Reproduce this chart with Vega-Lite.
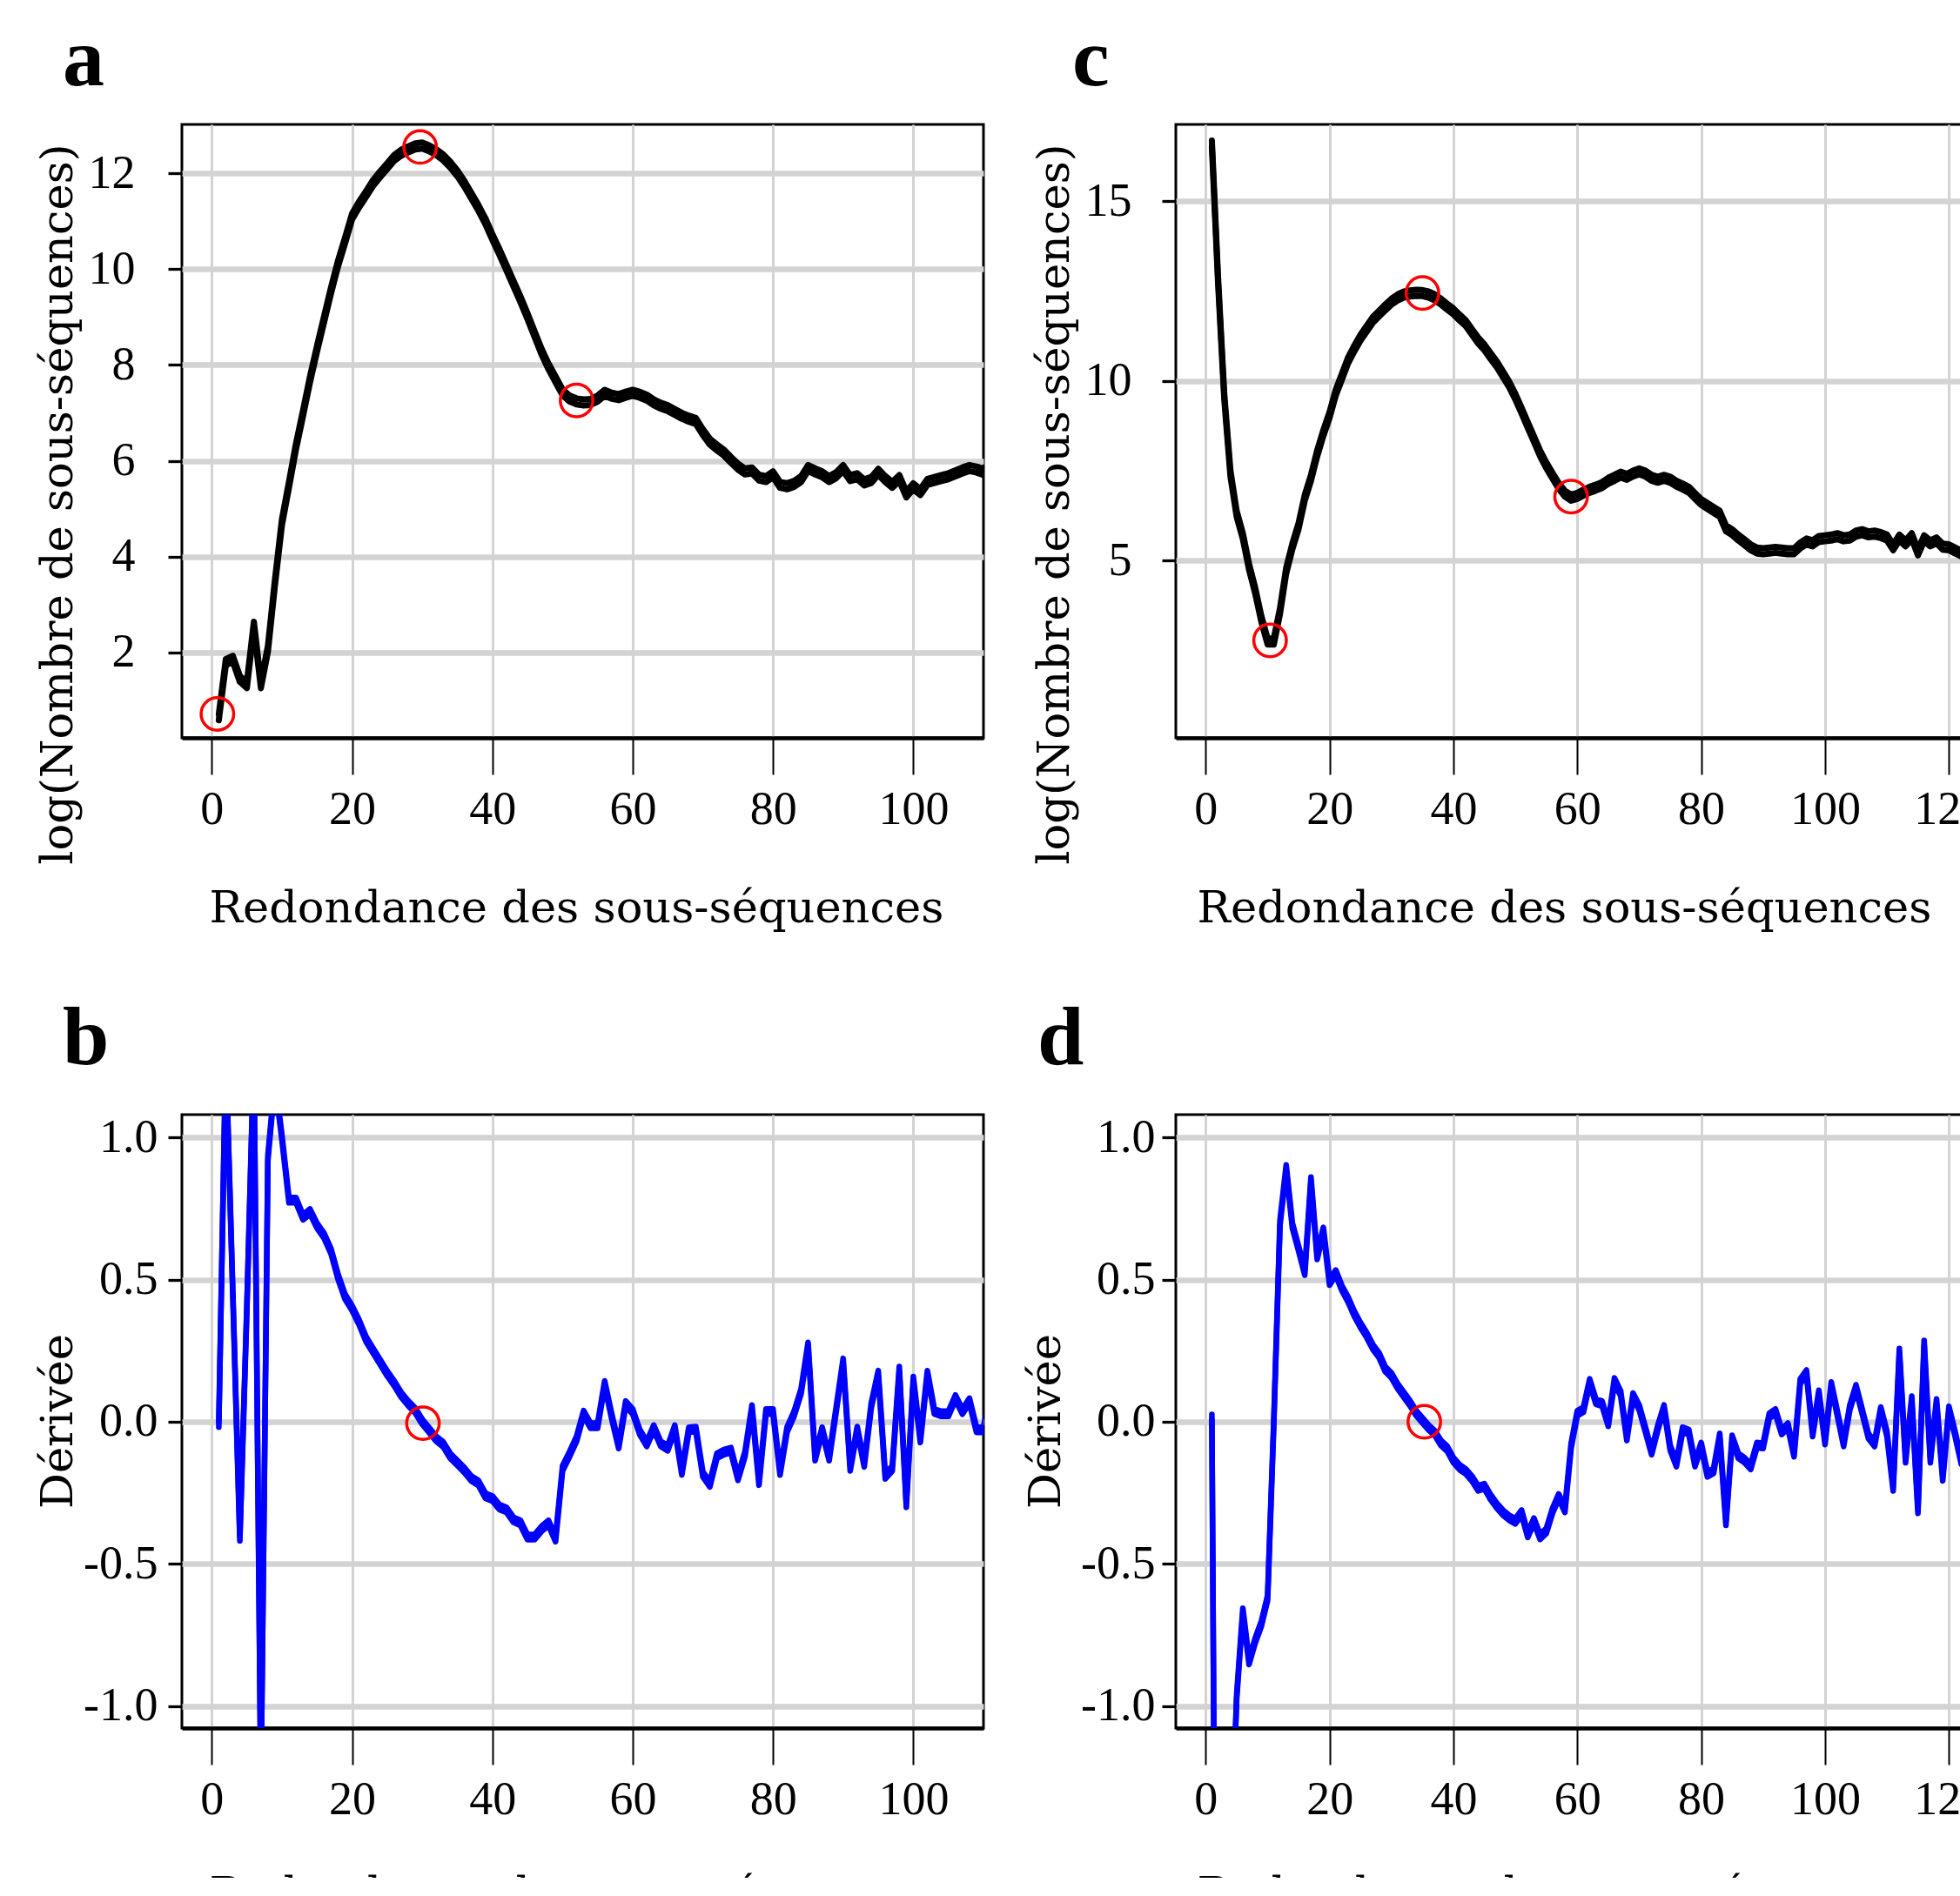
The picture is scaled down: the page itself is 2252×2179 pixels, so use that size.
{
  "$schema": "https://vega.github.io/schema/vega-lite/v6.json",
  "background": "white",
  "padding": {"left": 39, "top": 19, "right": -21, "bottom": -46},
  "columns": 2,
  "bounds": "flush",
  "spacing": {"row": 433, "column": 221},
  "datasets": {
    "a": [
      {"x":1,"y":0.65},{"x":2,"y":1.8},{"x":3,"y":1.87},{"x":4,"y":1.45},{"x":5,"y":1.32},{"x":6,"y":2.58},{"x":7,"y":1.32},{"x":8,"y":2.08},{"x":9,"y":3.46},{"x":10,"y":4.72},
      {"x":11,"y":5.5},{"x":12,"y":6.3},{"x":13,"y":6.99},{"x":14,"y":7.7},{"x":15,"y":8.34},{"x":16,"y":8.95},{"x":17,"y":9.56},{"x":18,"y":10.12},{"x":19,"y":10.6},{"x":20,"y":11.1},
      {"x":21,"y":11.35},{"x":22,"y":11.57},{"x":23,"y":11.8},{"x":24,"y":11.98},{"x":25,"y":12.15},{"x":26,"y":12.32},{"x":27,"y":12.43},{"x":28,"y":12.5},{"x":29,"y":12.56},{"x":30,"y":12.58},
      {"x":31,"y":12.52},{"x":32,"y":12.44},{"x":33,"y":12.33},{"x":34,"y":12.18},{"x":35,"y":12.0},{"x":36,"y":11.78},{"x":37,"y":11.53},{"x":38,"y":11.28},{"x":39,"y":11.0},{"x":40,"y":10.67},
      {"x":41,"y":10.36},{"x":42,"y":10.03},{"x":43,"y":9.7},{"x":44,"y":9.37},{"x":45,"y":9.02},{"x":46,"y":8.65},{"x":47,"y":8.28},{"x":48,"y":7.97},{"x":49,"y":7.7},{"x":50,"y":7.43},
      {"x":51,"y":7.3},{"x":52,"y":7.24},{"x":53,"y":7.22},{"x":54,"y":7.23},{"x":55,"y":7.3},{"x":56,"y":7.42},{"x":57,"y":7.36},{"x":58,"y":7.33},{"x":59,"y":7.38},{"x":60,"y":7.42},
      {"x":61,"y":7.38},{"x":62,"y":7.32},{"x":63,"y":7.22},{"x":64,"y":7.15},{"x":65,"y":7.1},{"x":66,"y":7.02},{"x":67,"y":6.94},{"x":68,"y":6.88},{"x":69,"y":6.83},{"x":70,"y":6.6},
      {"x":71,"y":6.4},{"x":72,"y":6.28},{"x":73,"y":6.17},{"x":74,"y":6.02},{"x":75,"y":5.88},{"x":76,"y":5.78},{"x":77,"y":5.8},{"x":78,"y":5.65},{"x":79,"y":5.62},{"x":80,"y":5.72},
      {"x":81,"y":5.5},{"x":82,"y":5.47},{"x":83,"y":5.52},{"x":84,"y":5.62},{"x":85,"y":5.85},{"x":86,"y":5.78},{"x":87,"y":5.72},{"x":88,"y":5.62},{"x":89,"y":5.7},{"x":90,"y":5.85},
      {"x":91,"y":5.64},{"x":92,"y":5.68},{"x":93,"y":5.55},{"x":94,"y":5.6},{"x":95,"y":5.77},{"x":96,"y":5.62},{"x":97,"y":5.5},{"x":98,"y":5.64},{"x":99,"y":5.3},{"x":100,"y":5.47},
      {"x":101,"y":5.35},{"x":102,"y":5.56},{"x":103,"y":5.6},{"x":104,"y":5.64},{"x":105,"y":5.68},{"x":106,"y":5.74},{"x":107,"y":5.8},{"x":108,"y":5.85},{"x":109,"y":5.82},{"x":110,"y":5.77},{"x":111,"y":5.77}
    ],
    "ap": [{"x":0.8,"y":0.72},{"x":29.7,"y":12.55},{"x":52.0,"y":7.26}],
    "b": [
      {"x":1,"y":-0.01},{"x":2,"y":1.3},{"x":3,"y":0.45},{"x":4,"y":-0.41},{"x":5,"y":0.4},{"x":6,"y":1.3},{"x":7,"y":-1.3},{"x":8,"y":0.93},{"x":9,"y":1.2},{"x":10,"y":1.0},
      {"x":11,"y":0.78},{"x":12,"y":0.78},{"x":13,"y":0.72},{"x":14,"y":0.74},{"x":15,"y":0.69},{"x":16,"y":0.655},{"x":17,"y":0.6},{"x":18,"y":0.51},{"x":19,"y":0.44},{"x":20,"y":0.4},
      {"x":21,"y":0.35},{"x":22,"y":0.29},{"x":23,"y":0.25},{"x":24,"y":0.21},{"x":25,"y":0.17},{"x":26,"y":0.135},{"x":27,"y":0.095},{"x":28,"y":0.065},{"x":29,"y":0.04},{"x":30,"y":0.0},
      {"x":31,"y":-0.03},{"x":32,"y":-0.06},{"x":33,"y":-0.08},{"x":34,"y":-0.12},{"x":35,"y":-0.145},{"x":36,"y":-0.17},{"x":37,"y":-0.2},{"x":38,"y":-0.215},{"x":39,"y":-0.26},{"x":40,"y":-0.27},
      {"x":41,"y":-0.3},{"x":42,"y":-0.31},{"x":43,"y":-0.345},{"x":44,"y":-0.356},{"x":45,"y":-0.406},{"x":46,"y":-0.406},{"x":47,"y":-0.377},{"x":48,"y":-0.356},{"x":49,"y":-0.413},{"x":50,"y":-0.164},
      {"x":51,"y":-0.114},{"x":52,"y":-0.06},{"x":53,"y":0.03},{"x":54,"y":-0.014},{"x":55,"y":-0.014},{"x":56,"y":0.135},{"x":57,"y":0.02},{"x":58,"y":-0.085},{"x":59,"y":0.064},{"x":60,"y":0.036},
      {"x":61,"y":-0.036},{"x":62,"y":-0.078},{"x":63,"y":-0.021},{"x":64,"y":-0.078},{"x":65,"y":-0.093},{"x":66,"y":-0.021},{"x":67,"y":-0.178},{"x":68,"y":-0.028},{"x":69,"y":-0.026},{"x":70,"y":-0.185},
      {"x":71,"y":-0.22},{"x":72,"y":-0.12},{"x":73,"y":-0.107},{"x":74,"y":-0.1},{"x":75,"y":-0.197},{"x":76,"y":-0.114},{"x":77,"y":0.05},{"x":78,"y":-0.214},{"x":79,"y":0.036},{"x":80,"y":0.036},
      {"x":81,"y":-0.178},{"x":82,"y":-0.028},{"x":83,"y":0.028},{"x":84,"y":0.107},{"x":85,"y":0.27},{"x":86,"y":-0.128},{"x":87,"y":-0.028},{"x":88,"y":-0.128},{"x":89,"y":0.043},{"x":90,"y":0.214},
      {"x":91,"y":-0.164},{"x":92,"y":-0.026},{"x":93,"y":-0.15},{"x":94,"y":0.057},{"x":95,"y":0.171},{"x":96,"y":-0.192},{"x":97,"y":-0.164},{"x":98,"y":0.185},{"x":99,"y":-0.292},{"x":100,"y":0.15},
      {"x":101,"y":-0.064},{"x":102,"y":0.171},{"x":103,"y":0.036},{"x":104,"y":0.028},{"x":105,"y":0.028},{"x":106,"y":0.085},{"x":107,"y":0.036},{"x":108,"y":0.074},{"x":109,"y":-0.028},{"x":110,"y":-0.028},{"x":111,"y":0.1}
    ],
    "bp": [{"x":30.1,"y":-0.005}],
    "c": [
      {"x":1,"y":16.6},{"x":2,"y":12.8},{"x":3,"y":9.56},{"x":4,"y":7.42},{"x":5,"y":6.3},{"x":6,"y":5.68},{"x":7,"y":4.83},{"x":8,"y":4.16},{"x":9,"y":3.37},{"x":10,"y":2.75},
      {"x":11,"y":2.75},{"x":12,"y":3.6},{"x":13,"y":4.72},{"x":14,"y":5.4},{"x":15,"y":5.96},{"x":16,"y":6.75},{"x":17,"y":7.3},{"x":18,"y":7.98},{"x":19,"y":8.55},{"x":20,"y":9.05},
      {"x":21,"y":9.67},{"x":22,"y":10.12},{"x":23,"y":10.57},{"x":24,"y":10.9},{"x":25,"y":11.2},{"x":26,"y":11.45},{"x":27,"y":11.7},{"x":28,"y":11.87},{"x":29,"y":12.04},{"x":30,"y":12.2},
      {"x":31,"y":12.32},{"x":32,"y":12.4},{"x":33,"y":12.43},{"x":34,"y":12.45},{"x":35,"y":12.44},{"x":36,"y":12.4},{"x":37,"y":12.32},{"x":38,"y":12.2},{"x":39,"y":12.06},{"x":40,"y":11.93},
      {"x":41,"y":11.76},{"x":42,"y":11.6},{"x":43,"y":11.36},{"x":44,"y":11.12},{"x":45,"y":10.93},{"x":46,"y":10.69},{"x":47,"y":10.46},{"x":48,"y":10.18},{"x":49,"y":9.9},{"x":50,"y":9.56},
      {"x":51,"y":9.17},{"x":52,"y":8.77},{"x":53,"y":8.38},{"x":54,"y":7.98},{"x":55,"y":7.65},{"x":56,"y":7.36},{"x":57,"y":7.08},{"x":58,"y":6.86},{"x":59,"y":6.75},{"x":60,"y":6.8},
      {"x":61,"y":6.89},{"x":62,"y":6.97},{"x":63,"y":7.03},{"x":64,"y":7.1},{"x":65,"y":7.22},{"x":66,"y":7.3},{"x":67,"y":7.39},{"x":68,"y":7.33},{"x":69,"y":7.42},{"x":70,"y":7.48},
      {"x":71,"y":7.42},{"x":72,"y":7.3},{"x":73,"y":7.25},{"x":74,"y":7.3},{"x":75,"y":7.25},{"x":76,"y":7.14},{"x":77,"y":7.06},{"x":78,"y":6.97},{"x":79,"y":6.8},{"x":80,"y":6.63},
      {"x":81,"y":6.52},{"x":82,"y":6.41},{"x":83,"y":6.3},{"x":84,"y":5.9},{"x":85,"y":5.79},{"x":86,"y":5.64},{"x":87,"y":5.51},{"x":88,"y":5.37},{"x":89,"y":5.28},{"x":90,"y":5.26},
      {"x":91,"y":5.28},{"x":92,"y":5.3},{"x":93,"y":5.28},{"x":94,"y":5.26},{"x":95,"y":5.26},{"x":96,"y":5.42},{"x":97,"y":5.53},{"x":98,"y":5.48},{"x":99,"y":5.6},{"x":100,"y":5.62},
      {"x":101,"y":5.64},{"x":102,"y":5.68},{"x":103,"y":5.62},{"x":104,"y":5.64},{"x":105,"y":5.75},{"x":106,"y":5.79},{"x":107,"y":5.73},{"x":108,"y":5.75},{"x":109,"y":5.71},{"x":110,"y":5.64},
      {"x":111,"y":5.37},{"x":112,"y":5.64},{"x":113,"y":5.48},{"x":114,"y":5.68},{"x":115,"y":5.23},{"x":116,"y":5.62},{"x":117,"y":5.48},{"x":118,"y":5.56},{"x":119,"y":5.39},{"x":120,"y":5.37},
      {"x":121,"y":5.28},{"x":122,"y":5.2},{"x":123,"y":5.15},{"x":124,"y":5.1},{"x":125,"y":5.1}
    ],
    "cp": [{"x":10.4,"y":2.78},{"x":35.0,"y":12.44},{"x":59.0,"y":6.78}],
    "d": [
      {"x":1,"y":0.017},{"x":2,"y":-3.5},{"x":3,"y":-3.0},{"x":4,"y":-1.6},{"x":5,"y":-0.97},{"x":6,"y":-0.665},{"x":7,"y":-0.845},{"x":8,"y":-0.77},{"x":9,"y":-0.71},{"x":10,"y":-0.62},
      {"x":11,"y":0.0},{"x":12,"y":0.7},{"x":13,"y":0.895},{"x":14,"y":0.69},{"x":15,"y":0.61},{"x":16,"y":0.525},{"x":17,"y":0.852},{"x":18,"y":0.58},{"x":19,"y":0.675},{"x":20,"y":0.49},
      {"x":21,"y":0.525},{"x":22,"y":0.47},{"x":23,"y":0.43},{"x":24,"y":0.38},{"x":25,"y":0.34},{"x":26,"y":0.305},{"x":27,"y":0.263},{"x":28,"y":0.234},{"x":29,"y":0.185},{"x":30,"y":0.163},
      {"x":31,"y":0.125},{"x":32,"y":0.095},{"x":33,"y":0.065},{"x":34,"y":0.03},{"x":35,"y":0.005},{"x":36,"y":-0.02},{"x":37,"y":-0.04},{"x":38,"y":-0.075},{"x":39,"y":-0.095},{"x":40,"y":-0.135},
      {"x":41,"y":-0.16},{"x":42,"y":-0.175},{"x":43,"y":-0.2},{"x":44,"y":-0.234},{"x":45,"y":-0.227},{"x":46,"y":-0.265},{"x":47,"y":-0.295},{"x":48,"y":-0.32},{"x":49,"y":-0.338},{"x":50,"y":-0.35},
      {"x":51,"y":-0.32},{"x":52,"y":-0.398},{"x":53,"y":-0.348},{"x":54,"y":-0.405},{"x":55,"y":-0.384},{"x":56,"y":-0.313},{"x":57,"y":-0.263},{"x":58,"y":-0.31},{"x":59,"y":-0.085},{"x":60,"y":0.03},
      {"x":61,"y":0.043},{"x":62,"y":0.142},{"x":63,"y":0.071},{"x":64,"y":0.064},{"x":65,"y":-0.007},{"x":66,"y":0.145},{"x":67,"y":0.1},{"x":68,"y":-0.057},{"x":69,"y":0.092},{"x":70,"y":0.05},
      {"x":71,"y":-0.028},{"x":72,"y":-0.107},{"x":73,"y":-0.021},{"x":74,"y":0.05},{"x":75,"y":-0.092},{"x":76,"y":-0.149},{"x":77,"y":-0.028},{"x":78,"y":-0.036},{"x":79,"y":-0.149},{"x":80,"y":-0.082},
      {"x":81,"y":-0.185},{"x":82,"y":-0.173},{"x":83,"y":-0.05},{"x":84,"y":-0.355},{"x":85,"y":-0.057},{"x":86,"y":-0.12},{"x":87,"y":-0.135},{"x":88,"y":-0.159},{"x":89,"y":-0.082},{"x":90,"y":-0.085},
      {"x":91,"y":0.021},{"x":92,"y":0.036},{"x":93,"y":-0.036},{"x":94,"y":-0.014},{"x":95,"y":-0.114},{"x":96,"y":0.142},{"x":97,"y":0.173},{"x":98,"y":-0.043},{"x":99,"y":0.102},{"x":100,"y":-0.071},
      {"x":101,"y":0.131},{"x":102,"y":0.028},{"x":103,"y":-0.078},{"x":104,"y":0.05},{"x":105,"y":0.121},{"x":106,"y":0.036},{"x":107,"y":-0.05},{"x":108,"y":-0.078},{"x":109,"y":0.043},{"x":110,"y":-0.043},
      {"x":111,"y":-0.234},{"x":112,"y":0.249},{"x":113,"y":-0.135},{"x":114,"y":0.081},{"x":115,"y":-0.313},{"x":116,"y":0.277},{"x":117,"y":-0.135},{"x":118,"y":0.071},{"x":119,"y":-0.199},{"x":120,"y":0.045},
      {"x":121,"y":-0.043},{"x":122,"y":-0.14},{"x":123,"y":0.05},{"x":124,"y":-0.1},{"x":125,"y":0.0}
    ],
    "dp": [{"x":35.3,"y":0.0}]
  },
  "concat": [
    {
      "width": 921, "height": 705,
      "title": {"text": "a", "anchor": "start", "frame": "group", "orient": "top", "font": "Liberation Serif", "fontSize": 96, "fontWeight": "bold", "color": "black", "baseline": "alphabetic", "offset": 41, "dx": -137, "dy": 92},
      "encoding": {
        "x": {"field": "x", "type": "quantitative", "scale": {"domain": [-4.26, 110.0], "nice": false, "zero": false},
              "axis": {"values": [0, 20, 40, 60, 80, 100], "title": "Redondance des sous-séquences", "titleX": 453}},
        "y": {"field": "y", "type": "quantitative", "scale": {"domain": [0.22, 13.02], "nice": false, "zero": false},
              "axis": {"values": [2, 4, 6, 8, 10, 12], "title": "log(Nombre de sous-séquences)", "labelPadding": 38, "titleY": 436, "titleX": -127}}
      },
      "layer": [
        {"data": {"name": "a"}, "mark": {"type": "line", "color": "black", "strokeWidth": 7, "yOffset": -3.5, "clip": true, "strokeJoin": "round", "strokeCap": "round"}, "encoding": {}},
        {"data": {"name": "a"}, "mark": {"type": "line", "color": "black", "strokeWidth": 7, "yOffset": 3.5, "clip": true, "strokeJoin": "round", "strokeCap": "round"}, "encoding": {}},
        {"data": {"name": "ap"}, "mark": {"type": "point", "shape": "circle", "filled": false, "color": "red", "strokeWidth": 3.5, "size": 1400, "opacity": 1}, "encoding": {}}
      ]
    },
    {
      "width": 921, "height": 705,
      "title": {"text": "c", "anchor": "start", "frame": "group", "orient": "top", "font": "Liberation Serif", "fontSize": 96, "fontWeight": "bold", "color": "black", "baseline": "alphabetic", "offset": 41, "dx": -119, "dy": 92},
      "encoding": {
        "x": {"field": "x", "type": "quantitative", "scale": {"domain": [-4.82, 124.6], "nice": false, "zero": false},
              "axis": {"values": [0, 20, 40, 60, 80, 100, 120], "title": "Redondance des sous-séquences", "titleX": 446}},
        "y": {"field": "y", "type": "quantitative", "scale": {"domain": [0.07, 17.13], "nice": false, "zero": false},
              "axis": {"values": [5, 10, 15], "title": "log(Nombre de sous-séquences)", "labelPadding": 35, "titleY": 436, "titleX": -124}}
      },
      "layer": [
        {"data": {"name": "c"}, "mark": {"type": "line", "color": "black", "strokeWidth": 7, "yOffset": -3.5, "clip": true, "strokeJoin": "round", "strokeCap": "round"}, "encoding": {}},
        {"data": {"name": "c"}, "mark": {"type": "line", "color": "black", "strokeWidth": 7, "yOffset": 3.5, "clip": true, "strokeJoin": "round", "strokeCap": "round"}, "encoding": {}},
        {"data": {"name": "cp"}, "mark": {"type": "point", "shape": "circle", "filled": false, "color": "red", "strokeWidth": 3.5, "size": 1400, "opacity": 1}, "encoding": {}}
      ]
    },
    {
      "width": 921, "height": 705,
      "title": {"text": "b", "anchor": "start", "frame": "group", "orient": "top", "font": "Liberation Serif", "fontSize": 96, "fontWeight": "bold", "color": "black", "baseline": "alphabetic", "offset": 56, "dx": -137, "dy": 95},
      "encoding": {
        "x": {"field": "x", "type": "quantitative", "scale": {"domain": [-4.26, 110.0], "nice": false, "zero": false},
              "axis": {"values": [0, 20, 40, 60, 80, 100], "title": "Redondance des sous-séquences", "titleX": 453, "titleY": 206}},
        "y": {"field": "y", "type": "quantitative", "scale": {"domain": [-1.078, 1.081], "nice": false, "zero": false},
              "axis": {"values": [-1, -0.5, 0, 0.5, 1], "labelExpr": "datum.value < 0 ? '-' + format(-datum.value, '.1f') : format(datum.value, '.1f')", "title": "Dérivée", "labelPadding": 12, "titleY": 352, "titleX": -127}}
      },
      "layer": [
        {"data": {"name": "b"}, "mark": {"type": "line", "color": "#0000ff", "strokeWidth": 6.5, "yOffset": -3, "clip": true, "strokeJoin": "round", "strokeCap": "round"}, "encoding": {}},
        {"data": {"name": "b"}, "mark": {"type": "line", "color": "#0000ff", "strokeWidth": 6.5, "yOffset": 3, "clip": true, "strokeJoin": "round", "strokeCap": "round"}, "encoding": {}},
        {"data": {"name": "bp"}, "mark": {"type": "point", "shape": "circle", "filled": false, "color": "red", "strokeWidth": 3.5, "size": 1400, "opacity": 1}, "encoding": {}}
      ]
    },
    {
      "width": 921, "height": 705,
      "title": {"text": "d", "anchor": "start", "frame": "group", "orient": "top", "font": "Liberation Serif", "fontSize": 96, "fontWeight": "bold", "color": "black", "baseline": "alphabetic", "offset": 56, "dx": -159, "dy": 95},
      "encoding": {
        "x": {"field": "x", "type": "quantitative", "scale": {"domain": [-4.82, 124.6], "nice": false, "zero": false},
              "axis": {"values": [0, 20, 40, 60, 80, 100, 120], "title": "Redondance des sous-séquences", "titleX": 446, "titleY": 206}},
        "y": {"field": "y", "type": "quantitative", "scale": {"domain": [-1.078, 1.081], "nice": false, "zero": false},
              "axis": {"values": [-1, -0.5, 0, 0.5, 1], "labelExpr": "datum.value < 0 ? '-' + format(-datum.value, '.1f') : format(datum.value, '.1f')", "title": "Dérivée", "labelPadding": 8, "titleY": 352, "titleX": -134}}
      },
      "layer": [
        {"data": {"name": "d"}, "mark": {"type": "line", "color": "#0000ff", "strokeWidth": 6.5, "yOffset": -3, "clip": true, "strokeJoin": "round", "strokeCap": "round"}, "encoding": {}},
        {"data": {"name": "d"}, "mark": {"type": "line", "color": "#0000ff", "strokeWidth": 6.5, "yOffset": 3, "clip": true, "strokeJoin": "round", "strokeCap": "round"}, "encoding": {}},
        {"data": {"name": "dp"}, "mark": {"type": "point", "shape": "circle", "filled": false, "color": "red", "strokeWidth": 3.5, "size": 1400, "opacity": 1}, "encoding": {}}
      ]
    }
  ],
  "config": {
    "view": {"stroke": "black", "strokeWidth": 3},
    "axis": {
      "domain": false,
      "grid": true,
      "gridColor": "#d3d3d3",
      "gridOpacity": 1,
      "labelFont": "Liberation Serif",
      "labelFontSize": 54,
      "labelColor": "black",
      "labelFlush": false,
      "labelOverlap": false,
      "titleFont": "DejaVu Serif",
      "titleFontSize": 51,
      "titleFontWeight": "normal",
      "titleColor": "black",
      "tickColor": "black"
    },
    "axisX": {
      "gridWidth": 3,
      "tickSize": 42,
      "tickWidth": 2,
      "labelBaseline": "alphabetic",
      "labelPadding": 56,
      "titleBaseline": "alphabetic",
      "titleAlign": "center",
      "titleY": 211,
      "domain": true,
      "domainColor": "black",
      "domainWidth": 4.5
    },
    "axisY": {
      "gridWidth": 6.5,
      "tickSize": 16,
      "tickWidth": 3.3,
      "titleAngle": 270,
      "titleBaseline": "alphabetic",
      "titleAlign": "center"
    }
  }
}
